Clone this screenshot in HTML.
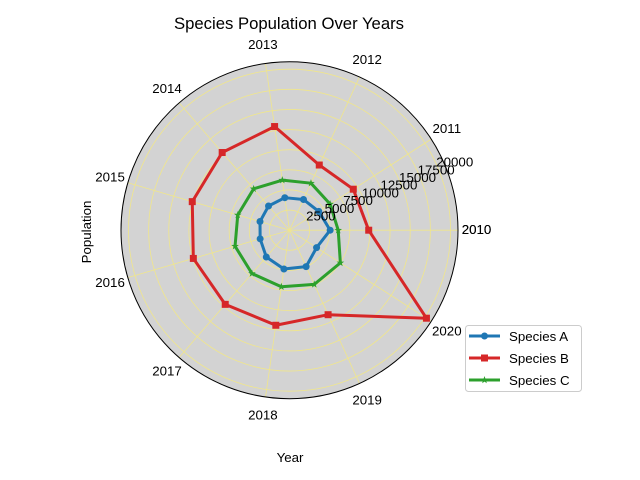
<!DOCTYPE html>
<html><head><meta charset="utf-8"><style>
body{margin:0;background:#fff;}
svg{display:block;font-family:"Liberation Sans","DejaVu Sans",sans-serif;}
</style></head><body>
<svg id="chart" width="640" height="480" viewBox="0 0 640 480">
<text x="289" y="29" font-size="16.7" text-anchor="middle">Species Population Over Years</text>
<g id="plot"></g>
<text x="290" y="462" font-size="13.3" text-anchor="middle">Year</text>
<text transform="translate(91,232) rotate(-90)" font-size="13.3" text-anchor="middle">Population</text>
<g>
<rect x="465.5" y="325.5" width="116" height="66" rx="3" fill="#fff" stroke="#ccc"/>
<g id="legend"></g>
</g>
</svg>
<script>
const years=["2010","2011","2012","2013","2014","2015","2016","2017","2018","2019","2020"];
const seriesA=[5050,4320,4190,4080,3980,3820,3800,4400,4870,4970,4000];
const seriesB=[9840,9420,8900,13010,12770,12590,12450,12190,11930,11540,20220];
const seriesC=[6050,6000,6420,6280,6800,6700,7050,7120,7100,7400,7510];
const rTicks=[2500,5000,7500,10000,12500,15000,17500,20000];
const names=["Species A","Species B","Species C"];

const NS="http://www.w3.org/2000/svg";
const cx=289.5, cy=230.2, R=168.5, pxPer=161/20000;
const g=document.getElementById('plot');
function el(t,a,p){const e=document.createElementNS(NS,t);for(const k in a)e.setAttribute(k,a[k]);(p||g).appendChild(e);return e;}
function ang(i){return i*2*Math.PI/years.length;}
function rS(v){return v*pxPer;}
function pt(i,v){const a=ang(i),r=rS(v);return [cx+r*Math.cos(a),cy-r*Math.sin(a)];}

const bg=el('circle',{cx:cx,cy:cy,r:R,fill:'#d3d3d3'});


rTicks.forEach(t=>{
  const c=el('circle',{cx:cx,cy:cy,r:rS(t),fill:'none',stroke:'#f0e68c','stroke-width':0.8});
  
  
});
years.forEach((y,i)=>{
  const a=ang(i);
  const l=el('line',{x1:cx,y1:cy,x2:cx+R*Math.cos(a),y2:cy-R*Math.sin(a),stroke:'#f0e68c','stroke-width':0.8});
  
  
});
const ob=el('circle',{cx:cx,cy:cy,r:R,fill:'none',stroke:'#000','stroke-width':1});



const labs=years.concat(["2010"]);
labs.forEach((y,i)=>{
  const a=i*2*Math.PI/years.length, rr=187;
  const t=el('text',{x:cx+rr*Math.cos(a),y:cy-rr*Math.sin(a)+4,'font-size':13.3,'text-anchor':'middle'});
  t.textContent=y;
  
  
});

function starPts(x,y,ro){
  const ri=ro*0.4,a=[];
  for(let k=0;k<10;k++){const r=k%2?ri:ro,th=-Math.PI/2+k*Math.PI/5;a.push((x+r*Math.cos(th)).toFixed(2)+','+(y+r*Math.sin(th)).toFixed(2));}
  return a.join(' ');
}
function mk(x,y,color,marker,parent){
  if(marker==='o')return el('circle',{cx:x,cy:y,r:3.5,fill:color},parent);
  if(marker==='s')return el('rect',{x:x-3.5,y:y-3.5,width:7,height:7,fill:color},parent);
  return el('polygon',{points:starPts(x,y,4),fill:color},parent);
}
function drawSeries(vals,color,marker,name){
  const pts=vals.map((v,i)=>pt(i,v));pts.push(pts[0]);
  const p=el('polyline',{points:pts.map(p=>p.join(',')).join(' '),fill:'none',stroke:color,'stroke-width':3,'stroke-linejoin':'round'});
  
  
  vals.forEach((v,i)=>{
    const [x,y]=pt(i,v);
    const m=mk(x,y,color,marker);
    
    
  });
}
drawSeries(seriesA,'#1f77b4','o','a');
drawSeries(seriesC,'#2ca02c','*','c');
drawSeries(seriesB,'#d62728','s','b');

rTicks.forEach(t=>{
  const a=22.5*Math.PI/180,r=rS(t);
  const tx=el('text',{x:cx+r*Math.cos(a)-2,y:cy-r*Math.sin(a)-2,'font-size':13.3});
  tx.textContent=t;
  
  
});

const lg=document.getElementById('legend');
const cols=['#1f77b4','#d62728','#2ca02c'],mks=['o','s','*'];
names.forEach((n,i)=>{
  const y=336+i*22;
  const l=el('line',{x1:469,y1:y,x2:500,y2:y,stroke:cols[i],'stroke-width':3},lg);
  
  
  const m=mk(484.5,y,cols[i],mks[i],lg);
  
  
  const t=el('text',{x:509,y:y+5,'font-size':13.3},lg);
  t.textContent=n;
  
  
});
</script>
</body></html>
